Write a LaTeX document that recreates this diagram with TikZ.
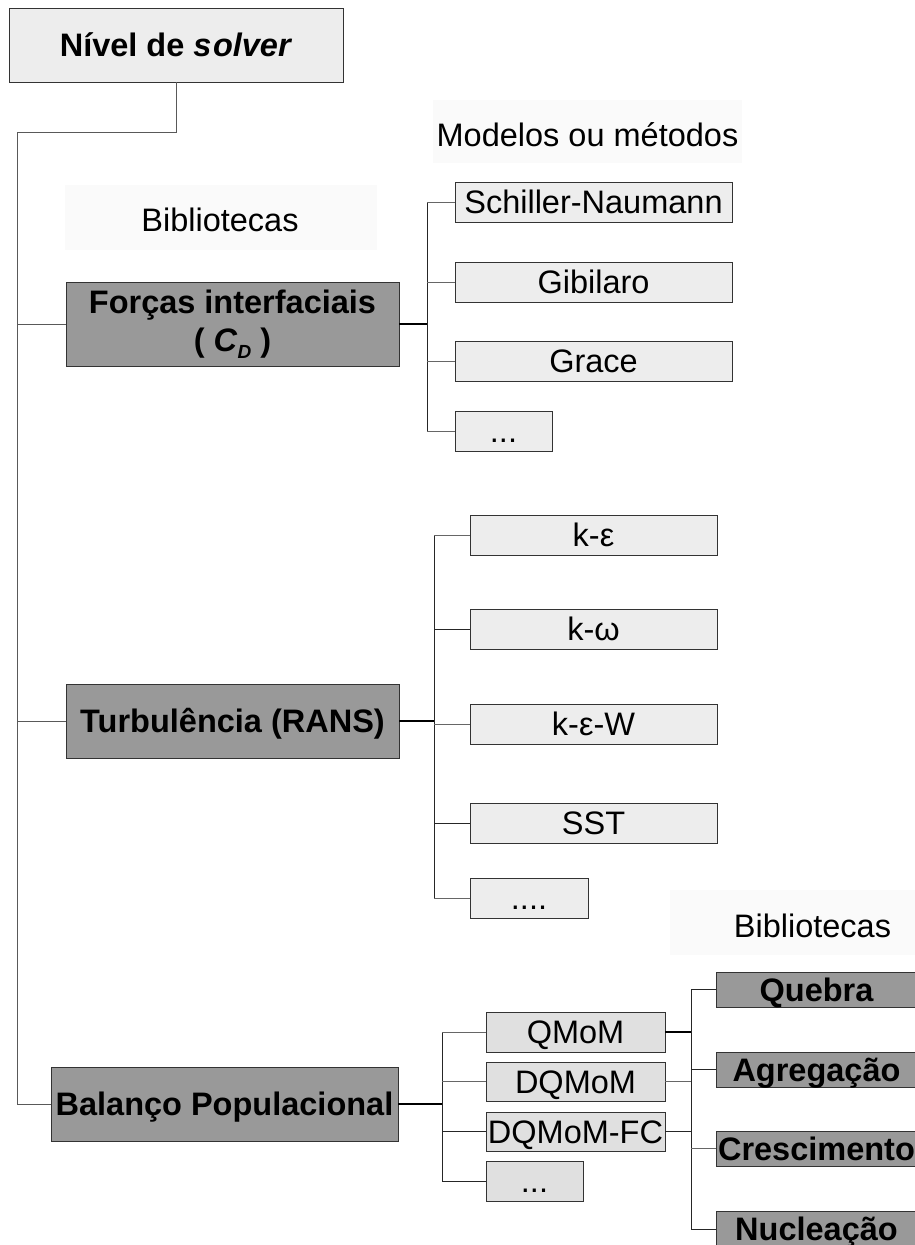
\documentclass[tikz,border=0pt]{standalone}
\usepackage{fontspec}
\setmainfont{Liberation Sans}
\begin{document}
\begin{tikzpicture}[x=1pt,y=-1pt,
  every node/.style={inner sep=0pt, outer sep=0pt},
  oneline/.style={text height=23.3pt, text depth=0pt},
  base/.style={draw=black!80, line width=0.9pt, font=\fontsize{32.5}{38}\selectfont},
  lightbox/.style={base, oneline, fill=black!7},
  midbox/.style={base, oneline, fill=black!12},
  darkfill/.style={base, fill=black!40, font=\fontsize{32.5}{38}\selectfont\bfseries},
  darkbox/.style={darkfill, oneline},
  caption/.style={font=\fontsize{32.5}{38}\selectfont, oneline},
  capbg/.style={fill=black!2},
  parentline/.style={line width=1.4pt, black},
  trunkline/.style={line width=0.9pt, black!85},
  childline/.style={line width=0.9pt, black!60},
  mainline/.style={line width=0.9pt, black!65}
]
\useasboundingbox (0,0) rectangle (915,1245);
\begin{scope}
\clip (0,0) rectangle (915,1245);

% caption backgrounds
\fill[capbg] (65,185) rectangle (377,250);
\fill[capbg] (433,100) rectangle (742,163);
\fill[capbg] (670,890) rectangle (915,955);

% captions
\node[caption] (cap1) at (220,220) {Bibliotecas};
\node[caption] (cap2) at (587.5,135) {Modelos ou métodos};
\node[caption] (cap3) at (812.5,926) {Bibliotecas};

% top
\node[lightbox, font=\fontsize{32.5}{38}\selectfont\bfseries, minimum width=334, minimum height=74] (top) at (176,45) {Nível de \textit{s\kern1.5pt olver}};

% main libraries
\node[darkfill, align=center, minimum width=333, minimum height=84] (forcas) at (232.5,324)
  {Forças interfaciais\\( \textit{C}\raisebox{-0.4ex}{\fontsize{19}{20}\selectfont\textit{D}} )};
\node[darkbox, minimum width=333, minimum height=74] (turb) at (232.5,721) {Turbulência (RANS)};
\node[darkbox, minimum width=347, minimum height=74] (bal) at (224.5,1104) {Balanço Populacional};

% Forças children
\node[lightbox, minimum width=277, minimum height=40] (schiller) at (593.5,202) {Schiller-Naumann};
\node[lightbox, minimum width=277, minimum height=40] (gibilaro) at (593.5,282) {Gibilaro};
\node[lightbox, minimum width=277, minimum height=40] (grace) at (593.5,361) {Grace};
\node[lightbox, minimum width=97, minimum height=40] (fdots) at (503.5,431) {...};

% Turbulence children
\node[lightbox, minimum width=247, minimum height=40] (ke) at (593.5,535) {k-ε};
\node[lightbox, minimum width=247, minimum height=40] (kw) at (593.5,629) {k-ω};
\node[lightbox, minimum width=247, minimum height=40] (kew) at (593.5,724) {k-ε-W};
\node[lightbox, minimum width=247, minimum height=40] (sst) at (593.5,823) {SST};
\node[lightbox, minimum width=118, minimum height=40] (tdots) at (529,898) {....};

% PBM children
\node[midbox, minimum width=179, minimum height=40] (qmom) at (575.5,1032) {QMoM};
\node[midbox, minimum width=179, minimum height=39] (dqmom) at (575.5,1081.5) {DQMoM};
\node[midbox, minimum width=179, minimum height=39] (dqmomfc) at (575.5,1131.5) {DQMoM-FC};
\node[midbox, minimum width=97, minimum height=40] (bdots) at (534.5,1181) {...};

% PBM libraries
\node[darkbox, minimum width=201, minimum height=35] (quebra) at (816.5,989.5) {Quebra};
\node[darkbox, minimum width=201, minimum height=35] (agreg) at (816.5,1069.5) {Agregação};
\node[darkbox, minimum width=201, minimum height=35] (cresc) at (816.5,1148.5) {Crescimento};
\node[darkbox, minimum width=201, minimum height=36] (nucl) at (816.5,1229) {Nucleação};

% coordinates
\coordinate (tA) at (176,132);
\coordinate (tB) at (17,132);
\coordinate (tEnd) at (17,1104);
\coordinate (fT) at (427,324);
\coordinate (tT) at (434,721);
\coordinate (bT) at (442,1104);
\coordinate (rT) at (691,1032);

% main trunk
\draw[mainline] (top.south) -- (tA) -- (tB) -- (tEnd);
\draw[mainline] (17,324) -- (forcas.west);
\draw[mainline] (17,721) -- (turb.west);
\draw[mainline] (tEnd) -- (bal.west);

% Forças tree
\draw[parentline] (forcas.east) -- (fT);
\draw[trunkline] (427,202) -- (427,431);
\draw[childline] (427,202) -- (schiller.west);
\draw[childline] (427,282) -- (gibilaro.west);
\draw[childline] (427,361) -- (grace.west);
\draw[childline] (427,431) -- (fdots.west);

% Turbulence tree
\draw[parentline] (turb.east) -- (tT);
\draw[trunkline] (434,535) -- (434,898);
\draw[childline] (434,535) -- (ke.west);
\draw[trunkline] (434,629) -- (kw.west);
\draw[childline] (434,724) -- (kew.west);
\draw[trunkline] (434,823) -- (sst.west);
\draw[childline] (434,898) -- (tdots.west);

% PBM tree
\draw[parentline] (bal.east) -- (bT);
\draw[trunkline] (442,1032) -- (442,1181);
\draw[childline] (442,1032) -- (qmom.west);
\draw[childline] (442,1081.5) -- (dqmom.west);
\draw[trunkline] (442,1131.5) -- (dqmomfc.west);
\draw[trunkline] (442,1181) -- (bdots.west);

% PBM methods to libraries
\draw[parentline] (qmom.east) -- (rT);
\draw[childline] (dqmom.east) -- (691,1081.5);
\draw[trunkline] (dqmomfc.east) -- (691,1131.5);
\draw[trunkline] (691,989.5) -- (691,1229);
\draw[trunkline] (691,989.5) -- (quebra.west);
\draw[trunkline] (691,1069.5) -- (agreg.west);
\draw[childline] (691,1148.5) -- (cresc.west);
\draw[trunkline] (691,1229) -- (nucl.west);
\end{scope}
\end{tikzpicture}
\end{document}
